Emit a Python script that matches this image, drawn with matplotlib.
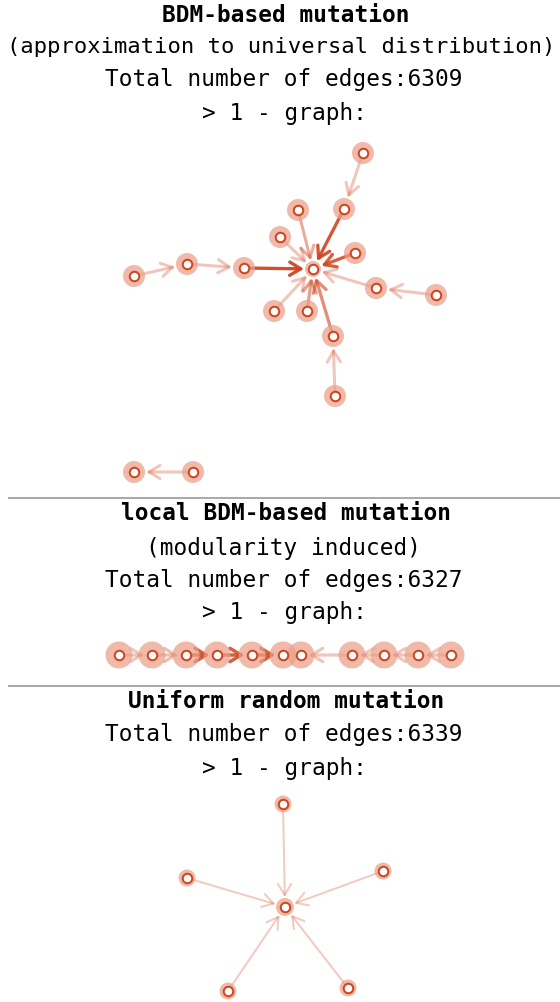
import matplotlib
matplotlib.use("Agg")
import matplotlib.pyplot as plt
from matplotlib.patches import FancyArrowPatch

W, H, DPI = 560, 1003, 100
RED = "#cf4520"
HALO = "#e9a088"
FONT = ["DejaVu Sans Mono"]

# ---------------- Panel 1: BDM-based mutation ----------------
p1_x = [313, 363, 344, 298, 280, 355, 244, 187, 134, 376, 436, 274, 307, 333, 335, 134, 193]
p1_y = [270, 154, 210, 211, 238, 254, 269, 265, 277, 289, 296, 312, 312, 337, 397, 473, 473]
p1_halo = [8, 11, 11, 11, 11, 11, 11, 11, 11, 11, 11, 11, 11, 11, 11, 11, 11]
p1_src = [1, 2, 3, 4, 5, 6, 7, 8, 9, 10, 11, 12, 13, 14, 16]
p1_dst = [2, 0, 0, 0, 0, 0, 6, 7, 0, 9, 0, 0, 0, 13, 15]
p1_w = [0.3, 0.9, 0.45, 0.3, 0.85, 0.95, 0.3, 0.3, 0.3, 0.3, 0.3, 0.5, 0.6, 0.3, 0.3]

# ---------------- Panel 2: local BDM-based mutation ----------------
p2_x = [119, 152, 186, 217, 252, 283, 301, 352, 384, 418, 451]
p2_y = [656] * 11
p2_halo = [13.5] * 11
p2_src = [0, 1, 2, 3, 4, 7, 8, 9, 10]
p2_dst = [1, 2, 3, 4, 5, 6, 7, 8, 9]
p2_w = [0.3, 0.35, 0.85, 0.85, 0.85, 0.3, 0.3, 0.3, 0.3]

# ---------------- Panel 3: Uniform random mutation ----------------
p3_x = [285, 283, 187, 383, 228, 348]
p3_y = [908, 805, 879, 872, 992, 989]
p3_halo = [9, 8.5, 8.5, 8.5, 8.5, 8.5]
p3_src = [1, 2, 3, 4, 5]
p3_dst = [0, 0, 0, 0, 0]
p3_w = [0.28, 0.28, 0.28, 0.28, 0.28]

texts = [
    ("BDM-based mutation", 15, True),
    ("(approximation to universal distribution)", 47, False),
    ("Total number of edges:6309", 79, False),
    ("> 1 - graph:", 113, False),
    ("local BDM-based mutation", 514, True),
    ("(modularity induced)", 548, False),
    ("Total number of edges:6327", 580, False),
    ("> 1 - graph:", 613, False),
    ("Uniform random mutation", 701, True),
    ("Total number of edges:6339", 735, False),
    ("> 1 - graph:", 769, False),
]
separators = [499, 687]

fig = plt.figure(figsize=(W / DPI, H / DPI), dpi=DPI)
ax = fig.add_axes([0, 0, 1, 1])
ax.set_xlim(0, W)
ax.set_ylim(H, 0)
ax.axis("off")

px2pt = 72.0 / DPI


def draw_graph(xs, ys, halos, src, dst, w, lwpx, shrink_extra):
    for s, d, a in zip(src, dst, w):
        lw = lwpx * px2pt * (1.0 if a < 0.5 else 1.1)
        arr = FancyArrowPatch(
            (xs[s], ys[s]), (xs[d], ys[d]),
            arrowstyle="->,head_length=5,head_width=3",
            color=RED, alpha=a, lw=lw,
            shrinkA=4 * px2pt, shrinkB=(halos[d] + shrink_extra) * px2pt,
            mutation_scale=1.6, zorder=2,
        )
        ax.add_patch(arr)
    hs = [(2 * r * px2pt) ** 2 for r in halos]
    ax.scatter(xs, ys, s=hs, color=HALO, alpha=0.72, linewidths=0, zorder=3)
    ax.scatter(xs, ys, s=(9.5 * px2pt) ** 2, facecolor="white", edgecolor=RED,
               linewidths=2.0 * px2pt, zorder=4)


draw_graph(p1_x, p1_y, p1_halo, p1_src, p1_dst, p1_w, 3.0, 1)
draw_graph(p2_x, p2_y, p2_halo, p2_src, p2_dst, p2_w, 3.2, -6)
draw_graph(p3_x, p3_y, p3_halo, p3_src, p3_dst, p3_w, 2.0, 1)

for t, y, bold in texts:
    long_line = len(t) > 30
    size = 15.9 if long_line else 16.4
    cx = 281 if long_line else (W / 2 + (6 if bold else 4))
    ax.text(cx, y, t, ha="center", va="center", family=FONT,
            fontsize=size, fontweight="bold" if bold else "normal",
            color="black")

for y in separators:
    ax.plot([8, W], [y, y], color="#aaaaaa", lw=2 * px2pt, solid_capstyle="butt")

fig.savefig("out.png", dpi=DPI)
